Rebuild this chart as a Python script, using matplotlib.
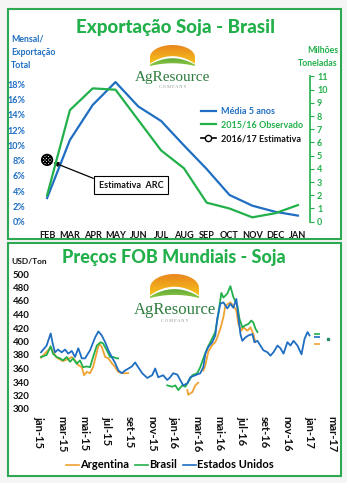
import matplotlib.pyplot as plt
import numpy as np
from matplotlib.patches import Rectangle, PathPatch
from matplotlib.path import Path
from matplotlib.lines import Line2D
from matplotlib.colors import LinearSegmentedColormap

# ---- export chart data ----
months_top = ['FEB', 'MAR', 'APR', 'MAY', 'JUN', 'JUL', 'AUG', 'SEP', 'OCT', 'NOV', 'DEC', 'JAN']
media_5anos = [3.1, 10.7, 15.3, 18.3, 15.1, 13.2, 10.0, 6.9, 3.5, 2.1, 1.3, 0.8]   # % of total
observado_1516 = [2.0, 8.45, 10.1, 10.0, 7.7, 5.4, 4.05, 1.44, 1.0, 0.33, 0.64, 1.26]  # Mt
estimativa_1617 = [8.1]  # % (FEB)

# ---- FOB price data (x = months since jan-15) ----
eua_m = [0.18, 0.68, 1.04, 1.22, 1.42, 1.69, 2.02, 2.31, 2.60, 2.91, 3.2, 3.49, 3.8, 4.09,
         4.53, 4.98, 5.27, 5.57, 5.87, 6.16, 6.46, 6.76, 7.05, 7.35, 7.64, 7.94, 8.24, 8.53,
         8.8, 9.16, 9.6, 10.04, 10.31, 10.58, 11.02, 11.38, 11.64, 11.91, 12.27, 12.53, 12.8,
         13.16, 13.42, 13.87, 14.31, 14.58, 14.76, 15.02, 15.38, 15.64, 15.82, 16.09, 16.36,
         16.71, 16.98, 17.24, 17.51, 17.69, 17.87, 18.04, 18.31, 18.58, 18.93, 19.11, 19.38,
         19.64, 19.91, 20.27, 20.53, 20.8, 21.16, 21.42, 21.69, 22.04, 22.31, 22.58, 22.93,
         23.29, 23.56, 23.82, 24.0]
eua_v = [384, 394, 412, 397, 384, 388, 384, 388, 382, 386, 377, 390, 375, 375,
         387, 406, 415, 409, 399, 387, 377, 368, 357, 353, 357, 360, 363, 369,
         362, 353, 346, 350, 360, 347, 350, 343, 347, 353, 351, 343, 335,
         338, 347, 350, 353, 362, 382, 392, 399, 409, 434, 456, 458,
         449, 456, 450, 463, 436, 411, 401, 406, 409, 411, 399, 401,
         394, 387, 384, 379, 384, 394, 390, 382, 399, 394, 401, 394,
         381, 404, 414, 409]

brasil_m1 = [0.18, 0.68, 1.04, 1.24, 1.57, 1.87, 2.13, 2.46, 2.76, 3.02, 3.35, 3.64, 3.91,
             4.24, 4.53, 4.8, 5.13, 5.48, 5.69, 6.02, 6.31, 6.58, 6.91, 7.02]
brasil_v1 = [377, 380, 393, 382, 377, 375, 372, 377, 370, 375, 367, 372, 362,
             363, 362, 377, 394, 399, 397, 387, 377, 377, 375, 375]
brasil_m2 = [11.38, 11.82, 12.09, 12.36, 12.71, 12.98, 13.24, 13.6, 14.04, 14.31, 14.58,
             14.93, 15.2, 15.64, 15.91, 16.18, 16.36, 16.71, 16.98, 17.24, 17.6, 17.78,
             18.04, 18.31, 18.58, 18.84, 19.02, 19.2, 19.38]
brasil_v2 = [335, 333, 335, 328, 335, 333, 340, 350, 353, 362, 375,
             390, 399, 414, 441, 472, 465, 471, 482, 466, 453, 434,
             421, 424, 426, 431, 428, 419, 414]

arg_m1 = [0.18, 1.04, 1.57, 2.13, 2.58, 2.91, 3.2, 3.49, 3.8, 4.0, 4.24, 4.53, 4.8, 5.13,
          5.33, 5.57, 5.87, 6.16, 6.46, 6.76, 7.02, 7.47, 7.91]
arg_v1 = [376, 391, 376, 371, 374, 377, 372, 365, 362, 350, 355, 353, 362, 384,
          397, 392, 377, 375, 368, 362, 355, 353, 353]
arg_m2 = [13.16, 13.24, 13.6, 13.87, 14.13]
arg_v2 = [328, 321, 325, 335, 339]
arg_m3 = [14.58, 14.76, 15.02, 15.38, 15.64, 15.82, 16.09, 16.36, 16.53, 16.8, 16.98,
          17.24, 17.51, 17.69, 17.96, 18.13, 18.49, 18.76, 19.02, 19.2]
arg_v3 = [357, 365, 385, 395, 399, 406, 419, 436, 453, 456, 458,
          453, 446, 426, 416, 421, 416, 421, 411, 399]

# isolated latest quotes
ultimo_m = [24.7]
ultimo_eua, ultimo_brasil, ultimo_arg = [406], [411], [397]
final_m, final_v = [25.6], [403]

tick_pos = list(range(0, 27, 2))
tick_lab = ['jan-15', 'mar-15', 'mai-15', 'jul-15', 'set-15', 'nov-15', 'jan-16',
            'mar-16', 'mai-16', 'jul-16', 'set-16', 'nov-16', 'jan-17', 'mar-17']

GREEN = '#22B04B'
FRAME = '#2EA852'
BLUE = '#1F6EC2'
ORANGE = '#F0A232'

plt.rcParams['font.family'] = ['Lato', 'DejaVu Sans']
plt.rcParams['font.weight'] = 'bold'
plt.rcParams['hatch.linewidth'] = 0.9

W, H = 347, 483
fig = plt.figure(figsize=(W / 100, H / 100), dpi=100)
fig.patch.set_facecolor('#f5f5f5')


def fx(px):
    return px / W


def fy(py):
    return 1 - py / H


def rect(x0, y0, x1, y1):
    return [fx(x0), fy(y1), (x1 - x0) / W, (y1 - y0) / H]


# green framed panels
for (x0, y0, x1, y1) in [(8, 9, 341, 239), (8, 243, 341, 476)]:
    fig.patches.append(Rectangle((fx(x0), fy(y1)), (x1 - x0) / W, (y1 - y0) / H,
                                 transform=fig.transFigure, fc='white', ec=FRAME,
                                 lw=1.5, zorder=-1))


def draw_logo(x0, y0, x1, y1, ty, tsize, cy):
    lax = fig.add_axes(rect(x0, y0, x1, y1))
    lax.set_xlim(0, 1)
    lax.set_ylim(0, 1)
    lax.axis('off')
    lax.patch.set_alpha(0)
    u = np.linspace(-1, 1, 200)
    xs = 0.5 + 0.5 * u
    top = 0.42 + 0.58 * np.sqrt(1 - u ** 2)
    base = 0.47 - 0.36 * u ** 2
    sun = Path(np.column_stack([np.r_[xs, xs[::-1]], np.r_[top, base[::-1]]]))
    up = 0.37 - 0.31 * u ** 2
    low = 0.13 * (1 - u ** 2)
    hill = Path(np.column_stack([np.r_[xs, xs[::-1]], np.r_[up, low[::-1]]]))
    grad = np.linspace(1, 0, 100).reshape(-1, 1)
    for path, cols, org in [(sun, ['#F8C91A', '#E9871F'], 'upper'),
                            (hill, ['#1E7F35', '#8CC63F'], 'lower')]:
        pp = PathPatch(path, fc='none', ec='none', transform=lax.transData)
        lax.add_patch(pp)
        cmap = LinearSegmentedColormap.from_list('g', cols)
        im = lax.imshow(grad, extent=[0, 1, 0, 1], aspect='auto', cmap=cmap, origin=org)
        im.set_clip_path(pp)
    fig.text(fx((x0 + x1) / 2), fy(ty), 'AgResource', family='Liberation Serif',
             weight='normal', fontsize=tsize, color='#2E7D3E', ha='center', va='center')
    fig.text(fx((x0 + x1) / 2), fy(cy), 'C O M P A N Y', family='Liberation Serif',
             weight='normal', fontsize=3.2, color='#8A958A', ha='center', va='center')


# ================= top: soybean exports =================
fig.text(fx(176), fy(27), 'Exportação Soja - Brasil', color=GREEN, fontsize=13.5,
         weight='black', ha='center', va='center')
fig.text(fx(11), fy(35), 'Mensal/\nExportação\nTotal', color=BLUE, fontsize=6.3,
         ha='left', va='top', linespacing=1.55)
fig.text(fx(338), fy(46), 'Milhões\nToneladas', color=GREEN, fontsize=6.3,
         ha='right', va='top', linespacing=1.55)

draw_logo(150, 45, 195, 66, 77, 11, 86.5)

ax = fig.add_axes(rect(35, 76.5, 310, 221.7))
ax.patch.set_alpha(0)
axr = ax.twinx()
x_top = np.arange(len(months_top))
ax.plot(x_top, media_5anos, color=BLUE, lw=1.6, zorder=3)
axr.plot(x_top, observado_1516, color=GREEN, lw=1.6, zorder=3)
ax.scatter(x_top[:1], estimativa_1617, s=60, facecolors='white', edgecolors='black',
           hatch='xxxxxxxxxx', linewidths=1.1, zorder=5)

ax.set_xlim(-0.53, 11.53)
ax.set_ylim(0, 19.03)
axr.set_ylim(0, 11)
ax.set_yticks(range(0, 19, 2))
ax.set_yticklabels([f'{v}%' for v in range(0, 19, 2)])
ax.set_xticks(x_top)
ax.set_xticklabels(months_top)
ax.tick_params(axis='y', length=0, pad=7, labelsize=6.5, labelcolor=BLUE)
ax.tick_params(axis='x', length=0, pad=7, labelsize=6.6, labelcolor='#111111')
axr.set_yticks(range(0, 12))
axr.tick_params(axis='y', length=3, width=0.8, color=GREEN, pad=2, labelsize=6.5,
                labelcolor=GREEN)
for a in (ax, axr):
    for s in a.spines.values():
        s.set_visible(False)
axr.spines['right'].set_visible(True)
axr.spines['right'].set_color(GREEN)
axr.spines['right'].set_linewidth(1.2)

ax.annotate('Estimativa  ARC', xy=(0, estimativa_1617[0]), xycoords='data',
            xytext=(fx(131), fy(185)), textcoords='figure fraction',
            ha='center', va='center', fontsize=6.5, color='#111111',
            bbox=dict(boxstyle='square,pad=0.55', fc='white', ec='black', lw=0.8),
            arrowprops=dict(arrowstyle='-|>', color='black', lw=0.9, relpos=(0, 1),
                            shrinkA=0, shrinkB=5, mutation_scale=7), zorder=6)

top_handles = [Line2D([], [], color=BLUE, lw=1.6),
               Line2D([], [], color=GREEN, lw=1.6),
               Line2D([], [], color='black', lw=1.2, marker='o', ms=4.5, mfc='white',
                      mec='black', mew=1.0)]
fig.legend(top_handles, ['Média 5 anos', '2015/16 Observado', '2016/17 Estimativa'],
           loc='upper left', bbox_to_anchor=(fx(193), fy(99)), frameon=False,
           fontsize=6.5, handlelength=1.6, handletextpad=0.6, labelspacing=0.5,
           labelcolor=[BLUE, GREEN, '#111111'])

# ================= bottom: FOB prices =================
fig.text(fx(174), fy(258), 'Preços FOB Mundiais - Soja', color=GREEN, fontsize=13,
         weight='black', ha='center', va='center')
fig.text(fx(11), fy(262), 'USD/Ton', color='#111111', fontsize=6, ha='left', va='center')

draw_logo(150, 274, 199, 298, 310.5, 12, 320.5)

ax2 = fig.add_axes(rect(34, 274, 335, 409))
ax2.patch.set_alpha(0)
lw = 1.3
ax2.plot(arg_m1, arg_v1, color=ORANGE, lw=lw)
ax2.plot(arg_m2, arg_v2, color=ORANGE, lw=lw)
ax2.plot(arg_m3, arg_v3, color=ORANGE, lw=lw)
ax2.plot(brasil_m1, brasil_v1, color=GREEN, lw=lw)
ax2.plot(brasil_m2, brasil_v2, color=GREEN, lw=lw)
ax2.plot(eua_m, eua_v, color=BLUE, lw=lw)
ax2.plot(ultimo_m, ultimo_arg, ls='none', marker='_', ms=4, mew=1.2, color=ORANGE)
ax2.plot(ultimo_m, ultimo_brasil, ls='none', marker='_', ms=4, mew=1.2, color=GREEN)
ax2.plot(ultimo_m, ultimo_eua, ls='none', marker='_', ms=4, mew=1.2, color=BLUE)
ax2.plot(final_m, final_v, ls='none', marker='s', ms=2, color='#2A8A6A')

ax2.set_xlim(-0.44, 26.26)
ax2.set_ylim(300, 500)
ax2.set_yticks(range(300, 501, 20))
ax2.set_xticks(tick_pos)
ax2.set_xticklabels(tick_lab, rotation=270)
ax2.tick_params(axis='y', length=0, pad=3, labelsize=7, labelcolor='#111111')
ax2.tick_params(axis='x', length=0, pad=5, labelsize=8, labelcolor='#111111')
for s in ax2.spines.values():
    s.set_visible(False)

bot_handles = [Line2D([], [], color=ORANGE, lw=1.2),
               Line2D([], [], color=GREEN, lw=1.2),
               Line2D([], [], color=BLUE, lw=1.2)]
fig.legend(bot_handles, ['Argentina', 'Brasil', 'Estados Unidos'], loc='center',
           bbox_to_anchor=(fx(170), fy(465)), ncol=3, frameon=False, fontsize=8,
           handlelength=1.2, handletextpad=0.1, columnspacing=0.5)

fig.savefig('out.png', dpi=100, facecolor=fig.get_facecolor())
